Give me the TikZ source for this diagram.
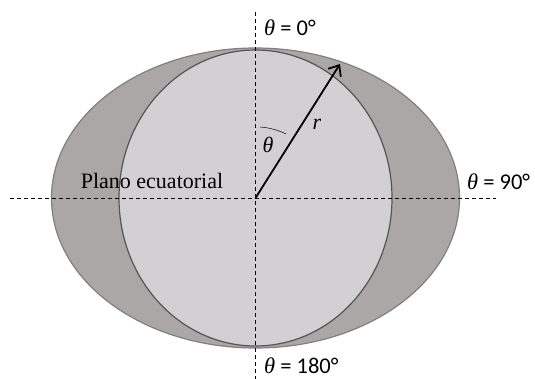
\documentclass[tikz,border=0pt]{standalone}
\usepackage{fontspec}
\setmainfont{Liberation Serif}
\newfontfamily\eqfont{Carlito}
\usetikzlibrary{arrows.meta}
\definecolor{outerfill}{RGB}{171,167,167}
\definecolor{innerfill}{RGB}{210,208,210}
\definecolor{outerline}{RGB}{128,128,128}
\definecolor{innerline}{RGB}{85,85,85}
\newcommand{\thsym}{{\rmfamily\itshape θ}}
\tikzset{
  axisline/.style={dashed, dash pattern=on 4pt off 3pt, line width=0.8pt, black},
  lbl/.style={font=\fontsize{22}{24}\selectfont, inner sep=0pt},
  eqlbl/.style={font=\fontsize{22.5}{24}\selectfont\eqfont, inner sep=0pt},
}
\begin{document}
\begin{tikzpicture}[x=1pt,y=-1pt]
\useasboundingbox (0,0) rectangle (535,379);
\coordinate (O) at (255.5,198);
\fill[outerfill, draw=outerline, line width=1.2pt] (O) ellipse [x radius=204, y radius=150];
\fill[innerfill, draw=innerline, line width=1.2pt] (O) ellipse [x radius=136.5, y radius=148];
\coordinate (vt) at (255.5,12);
\coordinate (vb) at (255.5,379);
\coordinate (hl) at (10,198);
\coordinate (hr) at (496,198);
\draw[axisline] (vt) -- (vb);
\draw[axisline] (hl) -- (hr);
\coordinate (tip) at (340,64);
\draw[line width=1.8pt, -{Straight Barb[length=9pt,width=15pt,line width=1.8pt]}] (O) -- (tip);
\draw[line width=0.5pt] (260,127) arc[start angle=-86, end angle=-64, radius=71];
\node[lbl] (th) at (268,145) {\thsym};
\node[lbl] (r) at (317,124) {\itshape r};
\node[eqlbl, anchor=west] (l0) at (264,28) {\thsym{} = 0°};
\node[eqlbl, anchor=west] (l180) at (264,366) {\thsym{} = 180°};
\node[eqlbl, anchor=west] (l90) at (467,182) {\thsym{} = 90°};
\node[lbl] (pe) at (152,181) {Plano ecuatorial};
\end{tikzpicture}
\end{document}
